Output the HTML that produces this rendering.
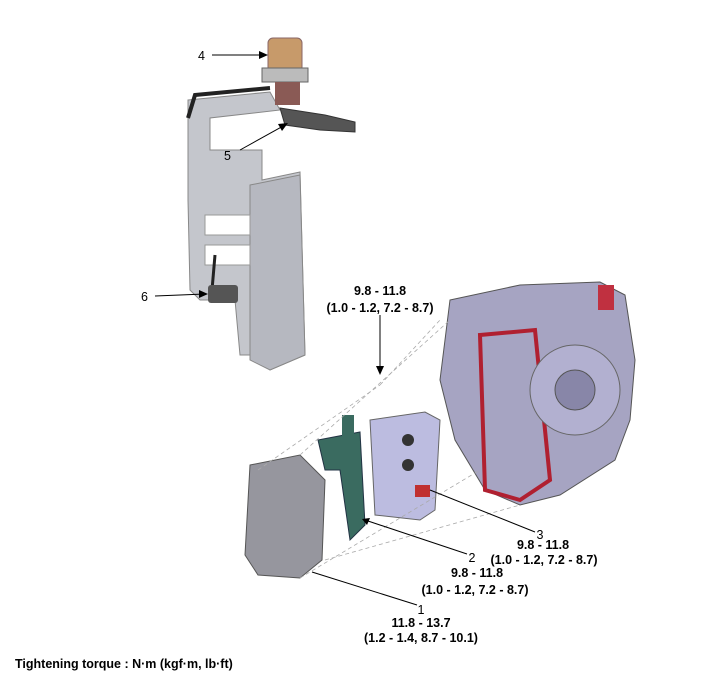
<!DOCTYPE html>
<html><head><style>
body{margin:0;background:#fff;width:701px;height:679px;overflow:hidden}
svg{display:block}
text{font-family:"Liberation Sans",Arial,sans-serif;fill:#000}
.b{font-weight:bold;font-size:12.5px}
.n{font-size:12.5px}
</style></head><body>
<svg width="701" height="679" viewBox="0 0 701 679">
<!-- bracket plate -->
<path d="M188 100 L270 92 L280 110 L210 118 L210 150 L262 150 L262 180 L300 172 L305 355 L270 370 L262 355 L240 355 L235 300 L200 300 L190 290 L188 200 Z" fill="#c4c6cc" stroke="#888" stroke-width="1"/>
<path d="M250 185 L300 175 L305 355 L270 370 L250 360 Z" fill="#b6b8c0" stroke="#888"/>
<rect x="205" y="215" width="45" height="20" fill="#fff" stroke="#999"/>
<rect x="205" y="245" width="45" height="20" fill="#fff" stroke="#999"/>
<path d="M188 118 L195 95 L270 88" fill="none" stroke="#222" stroke-width="4"/>
<path d="M215 255 L212 290" fill="none" stroke="#222" stroke-width="3"/>
<rect x="208" y="285" width="30" height="18" rx="3" fill="#555"/>
<!-- sensor 4 -->
<rect x="268" y="38" width="34" height="34" rx="5" fill="#c79a6a" stroke="#866"/>
<rect x="262" y="68" width="46" height="14" fill="#bbb" stroke="#666"/>
<path d="M275 82 L300 82 L300 105 L275 105 Z" fill="#8a5a55"/>
<!-- sensor 5 -->
<path d="M280 108 L325 115 L355 122 L355 132 L320 130 L285 125 Z" fill="#555" stroke="#333"/>
<!-- transmission -->
<path d="M450 300 L520 285 L600 282 L625 295 L635 360 L630 420 L615 460 L560 495 L520 505 L485 490 L455 440 L440 380 Z" fill="#a6a4c2" stroke="#555"/>
<path d="M480 335 L535 330 L550 480 L520 500 L485 490 Z" fill="none" stroke="#b02030" stroke-width="4"/>
<circle cx="575" cy="390" r="45" fill="#b2b0d0" stroke="#666"/>
<circle cx="575" cy="390" r="20" fill="#8886a8" stroke="#555"/>
<rect x="598" y="285" width="16" height="25" fill="#c03040"/>
<!-- valve body -->
<path d="M370 420 L425 412 L440 420 L435 510 L420 520 L375 515 Z" fill="#bcbce0" stroke="#666"/>
<circle cx="408" cy="440" r="6" fill="#333"/><circle cx="408" cy="465" r="6" fill="#333"/>
<rect x="415" y="485" width="15" height="12" fill="#c03030"/>
<!-- green frame -->
<path d="M318 440 L360 432 L365 525 L350 540 L340 470 L325 470 Z" fill="#3a6b60" stroke="#234"/>
<rect x="342" y="415" width="12" height="25" fill="#3a6b60"/>
<!-- cover -->
<path d="M250 465 L300 455 L325 480 L322 560 L300 578 L258 575 L245 555 Z" fill="#96969e" stroke="#555"/>
<!-- dashed lines -->
<g stroke="#aaa" stroke-dasharray="4,3" fill="none" stroke-width="0.8">
<path d="M300 455 L450 320"/><path d="M325 560 L520 505"/><path d="M258 470 L380 385"/><path d="M300 578 L480 470"/><path d="M380 385 L440 320"/>
</g>
<!-- leaders -->
<g stroke="#000" stroke-width="1" fill="none">
<path d="M212 55 L262 55"/><path d="M240 150 L285 125"/><path d="M155 296 L205 294"/>
<path d="M380 315 L380 370"/><path d="M535 532 L430 490"/><path d="M467 554 L365 520"/><path d="M417 605 L312 572"/>
</g>
<g fill="#000">
<path d="M268 55 L259 51 L259 59Z"/><path d="M288 123 L278 124 L282 131Z"/><path d="M208 294 L199 290 L199 298Z"/><path d="M380 375 L376 366 L384 366Z"/><path d="M362 519 L370 518 L367 525Z"/>
</g>
<text class="n" x="198" y="60">4</text>
<text class="n" x="224" y="160">5</text>
<text class="n" x="141" y="301">6</text>
<text class="b" x="380" y="295" text-anchor="middle">9.8 - 11.8</text>
<text class="b" x="380" y="312" text-anchor="middle">(1.0 - 1.2, 7.2 - 8.7)</text>
<text class="n" x="540" y="539" text-anchor="middle">3</text>
<text class="b" x="543" y="549" text-anchor="middle">9.8 - 11.8</text>
<text class="b" x="544" y="564" text-anchor="middle">(1.0 - 1.2, 7.2 - 8.7)</text>
<text class="n" x="472" y="562" text-anchor="middle">2</text>
<text class="b" x="477" y="577" text-anchor="middle">9.8 - 11.8</text>
<text class="b" x="475" y="594" text-anchor="middle">(1.0 - 1.2, 7.2 - 8.7)</text>
<text class="n" x="421" y="614" text-anchor="middle">1</text>
<text class="b" x="421" y="627" text-anchor="middle">11.8 - 13.7</text>
<text class="b" x="421" y="642" text-anchor="middle">(1.2 - 1.4, 8.7 - 10.1)</text>
<text class="b" x="15" y="668">Tightening torque : N·m (kgf·m, lb·ft)</text>
</svg>
</body></html>
